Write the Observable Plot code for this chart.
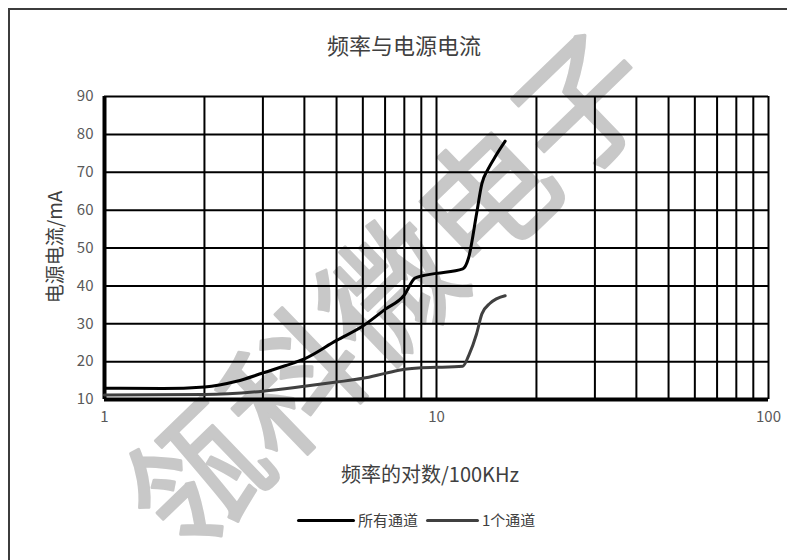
<!DOCTYPE html>
<html>
<head>
<meta charset="utf-8">
<script src="https://cdn.jsdelivr.net/npm/d3@7"></script>
<script src="https://cdn.jsdelivr.net/npm/@observablehq/plot@0.6"></script>
<style>
  html, body { margin: 0; padding: 0; background: #fff; }
  #wrap { position: relative; width: 787px; height: 560px; overflow: hidden; background: #fff;
          font-family: "Noto Sans CJK SC", "Noto Sans", sans-serif; color: #404040; }
  #border { position: absolute; left: 8px; top: 8px; width: 900px; height: 700px;
            border-left: 2px solid #3c3c3c; border-top: 2px solid #3c3c3c; }
  #chart { position: absolute; left: 0; top: 0; }
  #title { position: absolute; left: 0; width: 808px; top: 32px; text-align: center;
           font-size: 22px; line-height: 24px; }
  #xlabel { position: absolute; left: 0; width: 860px; top: 463px; text-align: center;
            font-size: 20px; line-height: 22px; }
  #ylabel { position: absolute; left: 54px; top: 247px; transform: translate(-50%, -50%) rotate(-90deg);
            white-space: nowrap; font-size: 19px; line-height: 20px; }
  #legend { position: absolute; left: 297px; top: 511px; display: flex; align-items: center;
            font-size: 15px; line-height: 18px; white-space: nowrap; }
  .sw { display: inline-block; height: 3px; border-radius: 1.5px; }
</style>
</head>
<body>
<div id="wrap">
  <div id="border"></div>
  <div id="chart"></div>
  <div id="title"></div>
  <div id="xlabel"></div>
  <div id="ylabel"></div>
  <div id="legend"></div>
</div>
<script>
// ---- data ----
const titleText = "频率与电源电流";
const xLabelText = "频率的对数/100KHz";
const yLabelText = "电源电流/mA";
const seriesNames = ["所有通道", "1个通道"];
const seriesColors = ["#000000", "#404040"];
const watermark = ["瓴科微电子"];

const allFreq = [1, 1.5, 2, 2.5, 3, 3.5, 4, 5, 6, 7, 8, 8.6, 9, 10, 12, 12.5, 13.2, 13.7, 14.3, 15.1, 16.1];
const allCurrent = [13.0, 12.9, 13.3, 14.8, 17.0, 18.9, 20.7, 25.6, 29.4, 33.8, 37.6, 42.0, 42.6, 43.3, 44.5, 47.5, 59.0, 67.0, 70.8, 74.4, 78.2];

const oneFreq = [1, 2, 3, 4, 5, 6, 7, 8, 9, 10, 12, 12.5, 13.2, 13.7, 14.5, 16.1];
const oneCurrent = [11.2, 11.3, 12.2, 13.5, 14.6, 15.6, 16.9, 18.0, 18.4, 18.5, 18.8, 21.6, 27.3, 32.6, 35.4, 37.4];

const xTicks = [1, 10, 100];
const yTicks = [10, 20, 30, 40, 50, 60, 70, 80, 90];
const xGrid = [1, 2, 3, 4, 5, 6, 7, 8, 9, 10, 20, 30, 40, 50, 60, 70, 80, 90, 100];

// ---- build ----
const allRows = allFreq.map((f, i) => ({f, v: allCurrent[i]}));
const oneRows = oneFreq.map((f, i) => ({f, v: oneCurrent[i]}));

const font = "'Noto Sans CJK SC', 'Noto Sans', sans-serif";

const chart = Plot.plot({
  width: 787,
  height: 560,
  marginTop: 96,
  marginRight: 19,
  marginBottom: 161,
  marginLeft: 104,
  style: {background: "transparent", fontSize: "15px", fontFamily: font, color: "#595959", overflow: "visible"},
  x: {type: "log", domain: [xTicks[0], xTicks[xTicks.length - 1]], ticks: xTicks, tickSize: 0, tickPadding: 12,
      tickFormat: d => String(d), label: null},
  y: {domain: [yTicks[0], yTicks[yTicks.length - 1]], ticks: yTicks, tickSize: 0, tickPadding: 11,
      tickFormat: d => String(d), label: null},
  marks: [
    Plot.text(watermark, {text: d => d, frameAnchor: "middle", dx: -42, dy: 48, rotate: -44,
      fontSize: 134, fontWeight: "normal", fill: "#c8c8c8", stroke: "#c8c8c8", strokeWidth: 3,
      strokeLinejoin: "round", fontFamily: font}),
    Plot.ruleX(xGrid, {stroke: "black", strokeWidth: 2}),
    Plot.ruleY(yTicks, {stroke: "black", strokeWidth: 2}),
    Plot.ruleX([xTicks[0]], {stroke: "black", strokeWidth: 4}),
    Plot.ruleY([yTicks[0]], {stroke: "black", strokeWidth: 4}),
    Plot.line(oneRows, {x: "f", y: "v", stroke: seriesColors[1], strokeWidth: 3, curve: "monotone-x"}),
    Plot.line(allRows, {x: "f", y: "v", stroke: seriesColors[0], strokeWidth: 3, curve: "monotone-x"})
  ]
});
document.getElementById("chart").appendChild(chart);

document.getElementById("title").textContent = titleText;
document.getElementById("xlabel").textContent = xLabelText;
document.getElementById("ylabel").textContent = yLabelText;

const legend = document.getElementById("legend");
const swWidths = [58, 53];
seriesNames.forEach((name, i) => {
  const sw = document.createElement("span");
  sw.className = "sw";
  sw.style.width = swWidths[i] + "px";
  sw.style.background = seriesColors[i];
  sw.style.marginLeft = i === 0 ? "0px" : "8px";
  sw.style.marginRight = "3px";
  const t = document.createElement("span");
  t.textContent = name;
  legend.appendChild(sw);
  legend.appendChild(t);
});
</script>
</body>
</html>
